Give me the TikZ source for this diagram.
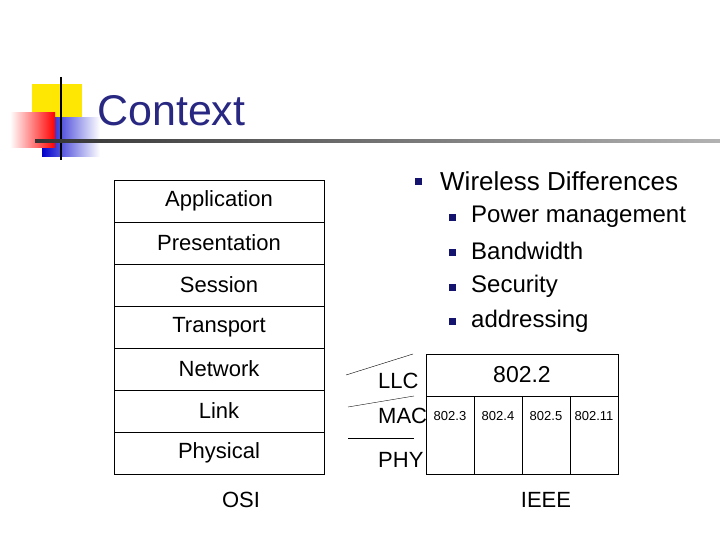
\documentclass[tikz,border=0pt]{standalone}
\usepackage{fontspec}
\setmainfont{Liberation Sans}
\begin{document}
\begin{tikzpicture}[x=1pt,y=-1pt,
  osi/.style={draw,thin,minimum width=210pt,minimum height=42pt,inner sep=0pt,font=\fontsize{22}{22}\selectfont},
  lbl/.style={inner sep=0pt,font=\fontsize{22}{22}\selectfont},
  small/.style={inner sep=0pt,font=\fontsize{13}{13}\selectfont},
  bul/.style={fill={rgb,255:red,20;green,20;blue,110},minimum size=7pt,inner sep=0pt},
  itm/.style={anchor=west,inner sep=0pt,font=\fontsize{26}{26}\selectfont}]
\useasboundingbox (0,0) rectangle (720,540);
% logo
\fill[yellow!90!orange] (32,84) rectangle (82,120);
\shade[left color=blue!80!black,right color=white] (42,118) rectangle (100,157);
\shade[left color=white,right color=red] (10,113) rectangle (55,148);
\draw[line width=2pt] (61,77) -- (61,160);
\shade[left color=black!80,right color=black!30] (35,140) rectangle (720,142.5);
\node[anchor=west,inner sep=0pt,text={rgb,255:red,40;green,40;blue,130},font=\fontsize{43}{43}\selectfont] (title) at (97,111) {Context};
% OSI
\foreach \t [count=\i] in {Application,Presentation,Session,Transport,Network,Link,Physical}
  \node[osi] (o\i) at (219,{159+42*\i}) {\t};
\node[lbl] (osi) at (241,500) {OSI};
% bullets
\node[bul] (b0) at (418,182) {};
\node[itm] (w) at (440,181) {Wireless Differences};
\foreach \t [count=\i] in {Power management,Bandwidth,Security,addressing}{
  \node[bul] (b\i) at (452,{183+34.7*\i}) {};
  \node[itm,font=\fontsize{24}{24}\selectfont] (s\i) at (471,{182+34.7*\i}) {\t};}
% IEEE
\node[draw,thin,minimum width=192pt,minimum height=42pt,inner sep=0pt,font=\fontsize{23}{23}\selectfont] (llc2) at (522,375) {802.2};
\foreach \i in {1,...,4}
  \node[draw,thin,minimum width=48pt,minimum height=78pt,inner sep=0pt] (m\i) at ({402+48*\i},435) {};
\foreach \t [count=\i] in {802.3,802.4,802.5,802.11}
  \node[small] (t\i) at ({402+48*\i},416) {\t};
\node[lbl,anchor=west] (llc) at (378,381) {LLC};
\node[lbl,anchor=west] (mac) at (378,416) {MAC};
\node[lbl,anchor=west] (phy) at (378,460) {PHY};
\coordinate (a1) at (346,375); \coordinate (a2) at (413,354);
\coordinate (c1) at (348,407); \coordinate (c2) at (414,396);
\coordinate (d1) at (348,438); \coordinate (d2) at (414,438);
\draw (a1) -- (a2); \draw (c1) -- (c2); \draw (d1) -- (d2);
\node[lbl] (ieee) at (546,500) {IEEE};
\end{tikzpicture}
\end{document}
